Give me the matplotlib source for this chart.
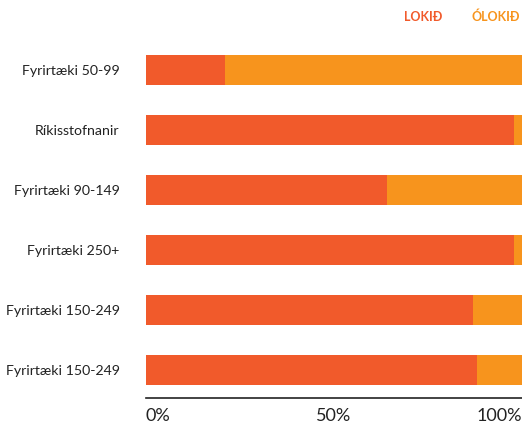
import matplotlib.pyplot as plt
import numpy as np

categories = ["Fyrirtæki 50-99", "Ríkisstofnanir", "Fyrirtæki 90-149",
              "Fyrirtæki 250+", "Fyrirtæki 150-249", "Fyrirtæki 150-249"]
lokid = [21, 98, 64, 98, 87, 88]
olokid = [79, 2, 36, 2, 13, 12]
ticks = [0, 50, 100]
tick_labels = ["0%", "50%", "100%"]

c_lokid = "#F15A2B"
c_olokid = "#F7941D"

plt.rcParams['font.family'] = ['Lato', 'DejaVu Sans']

fig = plt.figure(figsize=(5.22, 4.25), dpi=100)
ax = fig.add_axes([146 / 522, 1 - 398 / 425, 376 / 522, 358 / 425])

y = np.arange(len(categories))
ax.barh(y, lokid, height=0.5, color=c_lokid)
ax.barh(y, olokid, left=lokid, height=0.5, color=c_olokid)

ax.set_xlim(0, 100)
ax.set_ylim(5.467, -0.5)
ax.set_yticks(y)
ax.set_yticklabels(categories, fontsize=10.2, color="#222222")
ax.tick_params(axis="y", length=0, pad=19)
ax.set_xticks([])

for t, lab, ha in zip(ticks, tick_labels, ["left", "center", "right"]):
    ax.text(t, 5.467 + 0.17, lab, ha=ha, va="top", fontsize=13, color="#222222")

for s in ["top", "right", "left"]:
    ax.spines[s].set_visible(False)
ax.spines["bottom"].set_color("#222222")
ax.spines["bottom"].set_linewidth(1.2)

fig.text(404 / 522, 1 - 17 / 425, "LOKIÐ", color=c_lokid, fontsize=9, fontweight="bold", va="center")
fig.text(471 / 522, 1 - 17 / 425, "ÓLOKIÐ", color=c_olokid, fontsize=9, fontweight="bold", va="center")

fig.savefig("out.png", dpi=100)
